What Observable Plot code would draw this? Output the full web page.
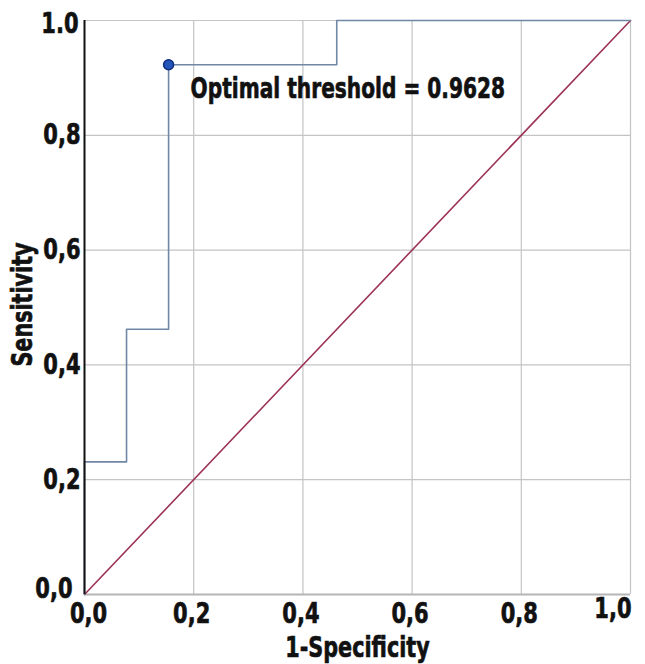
<!DOCTYPE html>
<html>
<head>
<meta charset="utf-8">
<script src="https://cdn.jsdelivr.net/npm/d3@7"></script>
<script src="https://cdn.jsdelivr.net/npm/@observablehq/plot@0.6"></script>
<style>
  html, body { margin: 0; padding: 0; background: #fff; }
  svg { display: block; }
</style>
</head>
<body>
<div id="chart"></div>
<script>
// ROC curve (step)
const rocFpr = [0, 0, 0.077, 0.077, 0.154, 0.154, 0.462, 0.462, 1.0];
const rocTpr = [0, 0.231, 0.231, 0.462, 0.462, 0.923, 0.923, 1.0, 1.0];
// Reference diagonal
const diagFpr = [0, 1];
const diagTpr = [0, 1];
// Optimal point
const optFpr = [0.154];
const optTpr = [0.923];
const optLabel = ["Optimal threshold = 0.9628"];
// Ticks
const tickValues = [0, 0.2, 0.4, 0.6, 0.8, 1.0];
const xTickLabels = ["0,0", "0,2", "0,4", "0,6", "0,8", "1,0"];
const yTickLabels = ["0,0", "0,2", "0,4", "0,6", "0,8", "1.0"];
const xTitle = "1-Specificity";
const yTitle = "Sensitivity";

const roc = rocFpr.map((x, i) => ({x, y: rocTpr[i]}));
const diag = diagFpr.map((x, i) => ({x, y: diagTpr[i]}));
const opt = optFpr.map((x, i) => ({x, y: optTpr[i], label: optLabel[i]}));
const xt = tickValues.map((v, i) => ({v, label: xTickLabels[i]}));
const yt = tickValues.map((v, i) => ({v, label: yTickLabels[i]}));
const gridVals = tickValues.slice(1);
const nT = tickValues.length;

const font = '"DejaVu Sans", sans-serif';
const txt = {fontWeight: "bold", fill: "#111", stroke: "#111", strokeWidth: 0.7, fontFamily: font, fontSize: 28};

const chart = Plot.plot({
  width: 645,
  height: 664,
  marginLeft: 84,
  marginRight: 15,
  marginTop: 20,
  marginBottom: 70,
  x: {domain: [0, 1], axis: null},
  y: {domain: [0, 1], axis: null},
  style: {fontFamily: font, background: "#fff", overflow: "visible"},
  marks: [
    Plot.ruleX(gridVals, {stroke: "#c4c4c4", strokeWidth: 1.2}),
    Plot.ruleY(gridVals, {stroke: "#c4c4c4", strokeWidth: 1.2}),
    Plot.ruleY([0], {stroke: "#b5b5b5", strokeWidth: 2}),
    Plot.line(diag, {x: "x", y: "y", stroke: "#9c3355", strokeWidth: 1.6}),
    Plot.line(roc, {x: "x", y: "y", stroke: "#7088a6", strokeWidth: 1.6}),
    Plot.ruleX([0], {stroke: "#111", strokeWidth: 2}),
    Plot.dot(opt, {x: "x", y: "y", r: 5, fill: "#2455b8", stroke: "#0f2f80", strokeWidth: 1.5}),
    Plot.text(opt, {x: "x", y: "y", text: "label", dx: 22, dy: 24, textAnchor: "start", className: "sqA", ...txt}),
    // x tick labels
    Plot.text(xt.slice(0, 1), {x: "v", y: () => 0, text: "label", dy: 20, dx: 4,
      textAnchor: "middle", className: "sqB", ...txt}),
    Plot.text(xt.slice(1, nT - 1), {x: "v", y: () => 0, text: "label", dy: 20, dx: -2,
      textAnchor: "middle", className: "sqB", ...txt}),
    Plot.text(xt.slice(nT - 1), {x: "v", y: () => 0, text: "label", dy: 15, dx: 1,
      textAnchor: "end", className: "sqB", ...txt}),
    // y tick labels
    Plot.text(yt.slice(1, nT - 1), {x: () => 0, y: "v", text: "label", dx: -4, textAnchor: "end", className: "sqB", ...txt}),
    Plot.text(yt.slice(nT - 1), {x: () => 0, y: "v", text: "label", dx: -6, dy: 4, textAnchor: "end", className: "sqB", ...txt}),
    Plot.text(yt.slice(0, 1), {x: () => 0, y: "v", text: "label", dx: -12, dy: -5, textAnchor: "end", className: "sqB", ...txt}),
    // axis titles
    Plot.text([xTitle], {frameAnchor: "bottom", lineAnchor: "middle", dy: 54, className: "sqC", ...txt}),
    Plot.text([yTitle], {frameAnchor: "left", textAnchor: "middle", lineAnchor: "middle", dx: -61, dy: -3, rotate: -90, className: "sqC", ...txt})
  ]
});
document.getElementById("chart").appendChild(chart);

// Emulate the condensed heavy typeface of the reference by squeezing glyphs horizontally
const squeeze = {sqA: 0.72, sqB: 0.75, sqC: 0.74};
for (const [cls, k] of Object.entries(squeeze)) {
  chart.querySelectorAll(`g.${cls} text`).forEach(t => {
    const w = t.getComputedTextLength();
    t.setAttribute("textLength", (w * k).toFixed(1));
    t.setAttribute("lengthAdjust", "spacingAndGlyphs");
  });
}
</script>
</body>
</html>
